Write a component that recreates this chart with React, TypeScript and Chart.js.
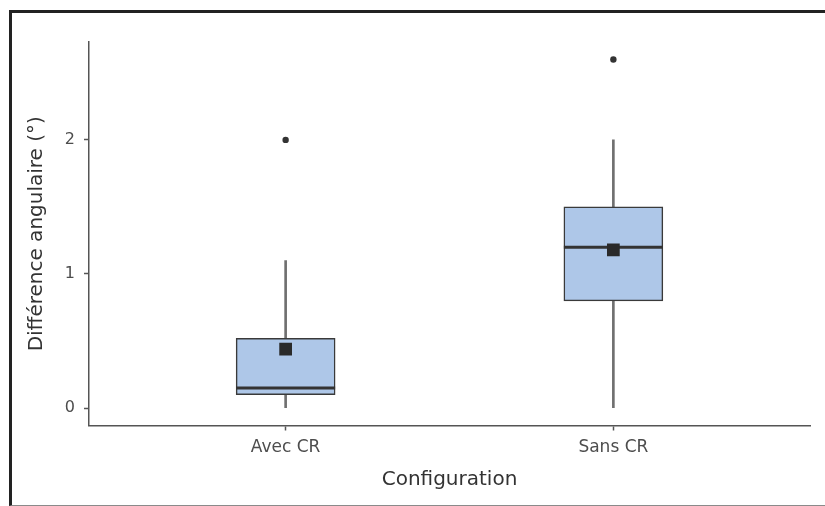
import React, { useEffect, useRef } from "react";
import { Chart, registerables } from "chart.js";

Chart.register(...registerables);

// Groups on the horizontal axis
const CATEGORIES = ["Avec CR", "Sans CR"];

// Box-plot summary per group (degrees)
const WHISKER_LOW = [0, 0];
const Q1 = [0.1, 0.8];
const MEDIAN = [0.15, 1.2];
const Q3 = [0.52, 1.5];
const WHISKER_HIGH = [1.1, 2.0];
const MEAN = [0.44, 1.18];
const OUTLIERS: number[][] = [[2.0], [2.6]];

// Vertical axis
const Y_TICKS = [0, 1, 2];
const Y_MIN = -0.13;
const Y_MAX = 2.73;

const FONT = "'DejaVu Sans', sans-serif";

export default function App() {
  const canvasRef = useRef<HTMLCanvasElement | null>(null);

  useEffect(() => {
    const canvas = canvasRef.current;
    if (!canvas) return;

    const pos = (i: number) => i + 1;

    const whiskers = CATEGORIES.map((_, i) => ({ x: pos(i), y: [WHISKER_LOW[i], WHISKER_HIGH[i]] }));
    const boxes = CATEGORIES.map((_, i) => ({ x: pos(i), y: [Q1[i], Q3[i]] }));
    const medians = CATEGORIES.map((_, i) => ({ x: pos(i), y: MEDIAN[i] }));
    const means = CATEGORIES.map((_, i) => ({ x: pos(i), y: MEAN[i] }));
    const outliers = OUTLIERS.flatMap((vals, i) => vals.map((v) => ({ x: pos(i), y: v })));

    const chart = new Chart(canvas, {
      type: "bar",
      data: {
        datasets: [
          {
            type: "bar",
            data: whiskers as any,
            backgroundColor: "#707070",
            borderWidth: 0,
            barThickness: 2,
            grouped: false,
            order: 5,
          },
          {
            type: "bar",
            data: boxes as any,
            backgroundColor: "#aec7e8",
            borderColor: "#3a3a3a",
            borderWidth: 1.5,
            borderSkipped: false,
            barThickness: 99,
            grouped: false,
            order: 4,
          },
          {
            type: "scatter",
            data: medians,
            pointStyle: "line",
            pointRadius: 49.5,
            borderColor: "#333333",
            borderWidth: 3,
            order: 3,
          },
          {
            type: "scatter",
            data: means,
            pointStyle: "rect",
            pointRadius: 9,
            backgroundColor: "#2a2a2a",
            borderColor: "#2a2a2a",
            borderWidth: 0,
            order: 2,
          },
          {
            type: "scatter",
            data: outliers,
            pointStyle: "circle",
            pointRadius: 3.2,
            backgroundColor: "#333333",
            borderWidth: 0,
            order: 1,
          },
        ] as any,
      },
      options: {
        responsive: false,
        animation: false,
        devicePixelRatio: 1,
        events: [],
        layout: {
          autoPadding: false,
          padding: { left: 0, top: 42, right: 15, bottom: 0 },
        },
        plugins: {
          legend: { display: false },
          tooltip: { enabled: false },
        },
        scales: {
          x: {
            type: "linear",
            min: 0.4,
            max: 2.6,
            offset: false,
            afterBuildTicks: (axis: any) => {
              axis.ticks = CATEGORIES.map((_, i) => ({ value: pos(i) }));
            },
            afterFit: (axis: any) => {
              axis.height = 80.5;
            },
            grid: {
              offset: false,
              drawOnChartArea: false,
              drawTicks: true,
              tickLength: 5,
              tickWidth: 1.5,
              tickColor: "#555555",
            },
            border: { display: true, color: "#555555", width: 1.5 },
            ticks: {
              autoSkip: false,
              maxRotation: 0,
              padding: 7,
              color: "#4d4d4d",
              font: { family: FONT, size: 17 },
              callback: (value: any) => CATEGORIES[Number(value) - 1] ?? "",
            },
            title: {
              display: true,
              text: "Configuration",
              color: "#333333",
              font: { family: FONT, size: 20 },
              padding: { top: 0, bottom: 14 },
            },
          },
          y: {
            type: "linear",
            min: Y_MIN,
            max: Y_MAX,
            afterBuildTicks: (axis: any) => {
              axis.ticks = Y_TICKS.map((v) => ({ value: v }));
            },
            afterFit: (axis: any) => {
              axis.width = 89;
            },
            grid: {
              drawOnChartArea: false,
              drawTicks: true,
              tickLength: 5,
              tickWidth: 1.5,
              tickColor: "#555555",
            },
            border: { display: true, color: "#555555", width: 1.5 },
            ticks: {
              padding: 9,
              color: "#4d4d4d",
              font: { family: FONT, size: 16 },
              callback: (value: any) => String(value),
            },
            title: {
              display: true,
              text: "Différence angulaire (°)",
              color: "#333333",
              font: { family: FONT, size: 20 },
              padding: { top: 25, bottom: 0 },
            },
          },
        },
      } as any,
    });

    return () => chart.destroy();
  }, []);

  return (
    <div
      style={{
        position: "fixed",
        left: 0,
        top: 0,
        width: 825,
        height: 506,
        overflow: "hidden",
        background: "#ffffff",
      }}
    >
      <div
        style={{
          position: "absolute",
          left: 9,
          top: 10,
          width: 840,
          height: 496,
          boxSizing: "border-box",
          borderLeft: "3px solid #222222",
          borderTop: "3px solid #222222",
          borderBottom: "1.5px solid #8a8a8a",
        }}
      />
      <canvas
        ref={canvasRef}
        width={825}
        height={506}
        style={{ position: "absolute", left: 0, top: 0, width: 825, height: 506 }}
      />
    </div>
  );
}
